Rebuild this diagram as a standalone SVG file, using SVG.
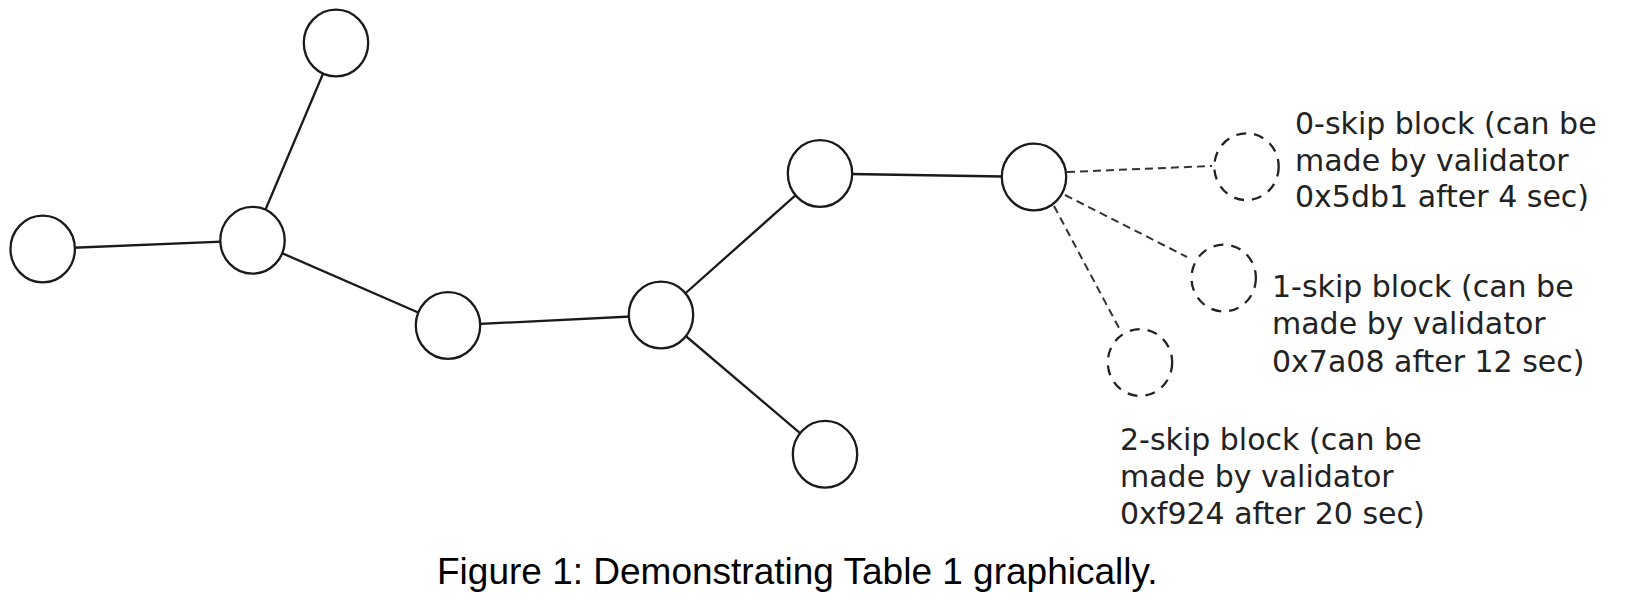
<svg xmlns="http://www.w3.org/2000/svg" width="1628" height="602" viewBox="0 0 1628 602">
<style>
.blk{fill:#fff;stroke:#1a1a1a;stroke-width:2.3}
.skip{fill:none;stroke:#222;stroke-width:2.3;stroke-dasharray:10 8}
.edge{stroke:#1a1a1a;stroke-width:2.3;fill:none}
.dash{stroke:#333;stroke-width:2;stroke-dasharray:8 5;fill:none}
.lbl{font-family:"DejaVu Sans",sans-serif;font-size:30px;fill:#222}
.cap{font-family:"Liberation Sans",Arial,sans-serif;font-size:37px;fill:#000}
</style>
<g id="connectors">
<line class="edge" x1="42.7" y1="249" x2="252.5" y2="240.3"/>
<line class="edge" x1="252.5" y1="240.3" x2="336" y2="43"/>
<line class="edge" x1="252.5" y1="240.3" x2="448" y2="325.5"/>
<line class="edge" x1="448" y1="325.5" x2="661" y2="315"/>
<line class="edge" x1="661" y1="315" x2="820" y2="173.5"/>
<line class="edge" x1="661" y1="315" x2="825" y2="454.3"/>
<line class="edge" x1="820" y1="173.5" x2="1034" y2="177"/>
<line class="dash" x1="1067" y1="172" x2="1212" y2="166"/>
<line class="dash" x1="1065" y1="195" x2="1187" y2="257"/>
<line class="dash" x1="1054" y1="206" x2="1119" y2="328"/>
</g>
<g id="node-a"><ellipse class="blk" cx="336" cy="43" rx="32.2" ry="33.4"/></g>
<g id="node-b"><ellipse class="blk" cx="42.7" cy="249" rx="32.2" ry="33.4"/></g>
<g id="node-c"><ellipse class="blk" cx="252.5" cy="240.3" rx="32.2" ry="33.4"/></g>
<g id="node-d"><ellipse class="blk" cx="448" cy="325.5" rx="32.2" ry="33.4"/></g>
<g id="node-e"><ellipse class="blk" cx="661" cy="315" rx="32.2" ry="33.4"/></g>
<g id="node-f"><ellipse class="blk" cx="820" cy="173.5" rx="32.2" ry="33.4"/></g>
<g id="node-g"><ellipse class="blk" cx="825" cy="454.3" rx="32.2" ry="33.4"/></g>
<g id="node-h"><ellipse class="blk" cx="1034" cy="177" rx="32.2" ry="33.4"/></g>
<g id="skip-0">
<ellipse class="skip" cx="1246.5" cy="166.7" rx="32.2" ry="33.4"/>
<text class="lbl" x="1295" y="134.3">0-skip block (can be</text>
<text class="lbl" x="1295" y="170.8">made by validator</text>
<text class="lbl" x="1295" y="207">0x5db1 after 4 sec)</text>
</g>
<g id="skip-1">
<ellipse class="skip" cx="1223.7" cy="278" rx="32.2" ry="33.4"/>
<text class="lbl" x="1272" y="297">1-skip block (can be</text>
<text class="lbl" x="1272" y="334">made by validator</text>
<text class="lbl" x="1272" y="371.5">0x7a08 after 12 sec)</text>
</g>
<g id="skip-2">
<ellipse class="skip" cx="1140" cy="362.5" rx="32.2" ry="33.4"/>
<text class="lbl" x="1120" y="449.5">2-skip block (can be</text>
<text class="lbl" x="1120" y="486.5">made by validator</text>
<text class="lbl" x="1120" y="523.5">0xf924 after 20 sec)</text>
</g>
<g id="caption">
<text class="cap" x="437" y="584">Figure 1: Demonstrating Table 1 graphically.</text>
</g>
</svg>
